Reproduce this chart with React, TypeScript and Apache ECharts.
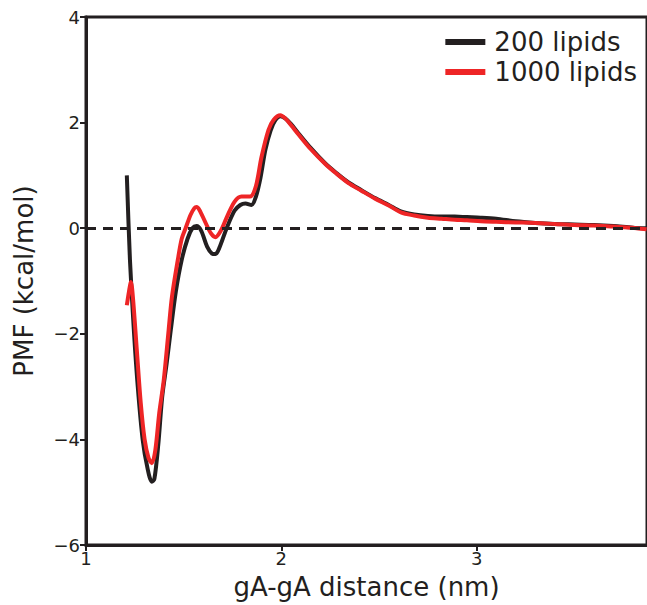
import React, { useEffect, useRef } from "react";
import * as echarts from "echarts";

const xTicks = [1, 2, 3];
const yTicks = [-6, -4, -2, 0, 2, 4];

const lipids200X = [1.209, 1.225, 1.245, 1.265, 1.29, 1.315, 1.337, 1.35, 1.37, 1.39, 1.413, 1.434, 1.46, 1.49, 1.52, 1.545, 1.566, 1.59, 1.62, 1.645, 1.663, 1.685, 1.72, 1.76, 1.79, 1.816, 1.847, 1.87, 1.893, 1.918, 1.945, 1.97, 1.995, 2.02, 2.05, 2.087, 2.15, 2.224, 2.28, 2.342, 2.41, 2.48, 2.55, 2.612, 2.68, 2.75, 2.82, 2.888, 2.95, 3.02, 3.1, 3.2, 3.3, 3.4, 3.5, 3.6, 3.7, 3.8, 3.87];
const lipids200Y = [1.0, -0.6, -1.93, -3.0, -4.0, -4.55, -4.8, -4.75, -4.1, -3.2, -2.56, -1.93, -1.2, -0.6, -0.2, 0.0, 0.04, -0.05, -0.35, -0.48, -0.49, -0.35, 0.0, 0.33, 0.44, 0.47, 0.44, 0.6, 0.95, 1.48, 1.85, 2.05, 2.12, 2.08, 1.97, 1.8, 1.52, 1.23, 1.05, 0.87, 0.72, 0.57, 0.44, 0.32, 0.26, 0.23, 0.22, 0.22, 0.21, 0.2, 0.18, 0.13, 0.1, 0.08, 0.07, 0.06, 0.04, 0.01, 0.0];

const lipids1000X = [1.209, 1.22, 1.23, 1.24, 1.26, 1.28, 1.3, 1.32, 1.337, 1.355, 1.375, 1.398, 1.423, 1.44, 1.47, 1.49, 1.51, 1.535, 1.555, 1.566, 1.58, 1.61, 1.64, 1.663, 1.69, 1.72, 1.76, 1.796, 1.84, 1.87, 1.898, 1.934, 1.96, 1.995, 2.02, 2.05, 2.087, 2.15, 2.224, 2.28, 2.342, 2.41, 2.48, 2.55, 2.612, 2.68, 2.75, 2.82, 2.888, 2.95, 3.02, 3.1, 3.2, 3.3, 3.4, 3.5, 3.6, 3.7, 3.8, 3.87];
const lipids1000Y = [-1.46, -1.2, -1.02, -1.3, -2.3, -3.3, -4.0, -4.35, -4.45, -4.2, -3.5, -2.88, -1.93, -1.3, -0.6, -0.2, 0.0, 0.25, 0.38, 0.4, 0.35, 0.12, -0.1, -0.17, -0.05, 0.2, 0.5, 0.6, 0.6, 0.8, 1.34, 1.86, 2.05, 2.14, 2.08, 1.95, 1.78, 1.5, 1.22, 1.04, 0.86, 0.71, 0.56, 0.43, 0.3, 0.24, 0.2, 0.18, 0.16, 0.15, 0.13, 0.12, 0.11, 0.1, 0.08, 0.06, 0.05, 0.03, 0.01, -0.02];

const seriesNames = ["200 lipids", "1000 lipids"];
const seriesColors = ["#231f20", "#ee2526"];

const FONT = "DejaVu Sans";

export default function App() {
  const ref = useRef<HTMLDivElement>(null);
  useEffect(() => {
    if (!ref.current) return;
    const chart = echarts.init(ref.current, null, { renderer: "svg" });
    const toPairs = (xs: number[], ys: number[]) => xs.map((x, i) => [x, ys[i]]);
    chart.setOption({
      animation: false,
      backgroundColor: "#ffffff",
      grid: {
        left: 86,
        right: -3,
        top: 17,
        bottom: 60,
        show: true,
        borderColor: "#231f20",
        borderWidth: 3,
        backgroundColor: "transparent",
      },
      legend: {
        right: 5,
        top: 24,
        orient: "vertical",
        icon: "rect",
        itemWidth: 40,
        itemHeight: 6,
        itemGap: 4,
        align: "left",
        data: seriesNames,
        textStyle: { fontFamily: FONT, fontSize: 26, color: "#231f20", padding: [0, 0, 0, 4] },
      },
      xAxis: {
        type: "value",
        min: 1,
        max: 3.872,
        name: "gA-gA distance (nm)",
        nameLocation: "middle",
        nameGap: 29,
        nameTextStyle: { fontFamily: FONT, fontSize: 26, color: "#231f20" },
        axisLine: { show: true, onZero: false, lineStyle: { color: "#231f20", width: 3 } },
        axisTick: { show: true, length: 6, customValues: xTicks, lineStyle: { color: "#231f20", width: 2 } },
        axisLabel: { customValues: xTicks, fontFamily: FONT, fontSize: 18, color: "#231f20", margin: 4 },
        splitLine: { show: false },
      },
      yAxis: {
        type: "value",
        min: -6,
        max: 4,
        interval: 2,
        name: "PMF (kcal/mol)",
        nameLocation: "middle",
        nameGap: 49,
        nameTextStyle: { fontFamily: FONT, fontSize: 26, color: "#231f20" },
        axisLine: { show: true, onZero: false, lineStyle: { color: "#231f20", width: 3 } },
        axisTick: { show: true, length: 6, customValues: yTicks, lineStyle: { color: "#231f20", width: 2 } },
        axisLabel: {
          customValues: yTicks,
          fontFamily: FONT,
          fontSize: 18,
          color: "#231f20",
          margin: 6,
          formatter: (v: number) => String(v).replace("-", "\u2212"),
        },
        splitLine: { show: false },
      },
      series: [
        {
          name: seriesNames[0],
          type: "line",
          data: toPairs(lipids200X, lipids200Y),
          showSymbol: false,
          smooth: 0.3,
          color: seriesColors[0],
          lineStyle: { width: 4, color: seriesColors[0] },
          z: 2,
          markLine: {
            silent: true,
            symbol: "none",
            label: { show: false },
            lineStyle: { type: [10, 7], color: "#231f20", width: 3 },
            data: [{ yAxis: 0 }],
          },
        },
        {
          name: seriesNames[1],
          type: "line",
          data: toPairs(lipids1000X, lipids1000Y),
          showSymbol: false,
          smooth: 0.3,
          color: seriesColors[1],
          lineStyle: { width: 4, color: seriesColors[1] },
          z: 3,
        },
      ],
    });
    return () => chart.dispose();
  }, []);
  return <div ref={ref} style={{ width: 647, height: 605, position: "absolute", left: 0, top: 0 }} />;
}
